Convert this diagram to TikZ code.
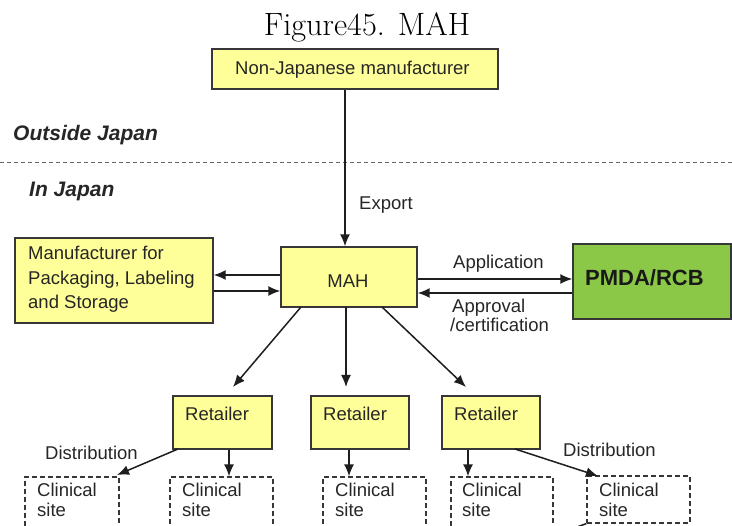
\documentclass[tikz,border=0pt]{standalone}
\usepackage{fontspec}
\newfontfamily\arial{Liberation Sans}
\usetikzlibrary{arrows.meta,calc}
\definecolor{yel}{RGB}{255,255,153}
\definecolor{grn}{RGB}{140,200,72}
\definecolor{bordc}{RGB}{55,55,55}
\definecolor{arrc}{RGB}{30,30,30}
\begin{document}
\begin{tikzpicture}[x=1pt,y=-1pt,
  ybox/.style={draw=bordc, line width=1.4pt, fill=yel, inner sep=0pt},
  gbox/.style={draw=bordc, line width=1.4pt, fill=grn, inner sep=0pt},
  cbox/.style={draw=bordc, line width=1.2pt, dash pattern=on 5pt off 3pt, inner sep=0pt},
  txt/.style={font=\arial\fontsize{18.5}{22}\selectfont, inner sep=0pt, text=black!85},
  region/.style={font=\arial\bfseries\itshape\fontsize{21}{25}\selectfont, inner sep=0pt, text=black!85},
  arr/.style={-{Latex[length=12pt,width=10pt]}, line width=1.5pt, draw=arrc},
  plain/.style={line width=1.5pt, draw=arrc}]
\useasboundingbox (0,0) rectangle (732,526);
\clip (0,0) rectangle (732,526);
\fill[white] (0,0) rectangle (732,526);

% title
\node[inner sep=0pt, anchor=base, font=\fontsize{32.3}{38}\selectfont] (title) at (367,36) {Figure45. MAH};

% boxes
\node[ybox, minimum width=286pt, minimum height=40pt] (nj) at (355,69) {};
\node[ybox, minimum width=136pt, minimum height=60pt] (mah) at (349,277) {};
\node[ybox, minimum width=198pt, minimum height=85pt] (man) at (114,280.5) {};
\node[gbox, minimum width=158pt, minimum height=75pt] (pmda) at (652,281.5) {};
\node[ybox, minimum width=99pt, minimum height=53pt] (r1) at (222.5,422.5) {};
\node[ybox, minimum width=98pt, minimum height=53pt] (r2) at (360,422.5) {};
\node[ybox, minimum width=98pt, minimum height=53pt] (r3) at (491,422.5) {};
\node[cbox, minimum width=94pt, minimum height=80pt] (c1) at (72,517) {};
\node[cbox, minimum width=103pt, minimum height=80pt] (c2) at (221.5,517) {};
\node[cbox, minimum width=103pt, minimum height=80pt] (c3) at (374.5,517) {};
\node[cbox, minimum width=102pt, minimum height=80pt] (c4) at (502,517) {};
\node[cbox, minimum width=103pt, minimum height=47pt] (c5) at (638.5,499.5) {};

% texts
\node[txt, anchor=base west] (njt) at (235,75) {Non-Japanese manufacturer};
\node[region, anchor=base west] (outj) at (13,141) {Outside Japan};
\node[region, anchor=base west] (inj) at (29,197) {In Japan};
\node[txt, anchor=base west] (expt) at (359,210) {Export};
\node[txt, anchor=base] (maht) at (348,288) {MAH};
\node[txt, anchor=base west] (mant1) at (28,260) {Manufacturer for};
\node[txt, anchor=base west] (mant2) at (28,285) {Packaging, Labeling};
\node[txt, anchor=base west] (mant3) at (28,309) {and Storage};
\node[txt, anchor=base west] (appt) at (453,269) {Application};
\node[txt, anchor=base west] (aprt1) at (452,313) {Approval};
\node[txt, anchor=base west] (aprt2) at (450,332) {/certification};
\node[inner sep=0pt, anchor=base west, text=black!90, font=\arial\bfseries\fontsize{22}{26}\selectfont] (pmdat) at (585,286) {PMDA/RCB};
\node[txt, anchor=base west] (r1t) at (185,421) {Retailer};
\node[txt, anchor=base west] (r2t) at (323,421) {Retailer};
\node[txt, anchor=base west] (r3t) at (454,421) {Retailer};
\node[txt, anchor=base west] (d1t) at (45,460) {Distribution};
\node[txt, anchor=base west] (d2t) at (563,457) {Distribution};
\foreach \c/\x in {c1/37, c2/182, c3/335, c4/462, c5/599}{
  \node[txt, anchor=base west] (\c t1) at (\x,497) {Clinical};
  \node[txt, anchor=base west] (\c t2) at (\x,517) {site};
}

% divider
\coordinate (dl) at (0,163);
\coordinate (dr) at (732,163);
\draw[draw=black!60, line width=1pt, dash pattern=on 4pt off 3pt] (dl) -- (dr);

% connectors
\coordinate (ex) at (345,0);
\draw[arr] (nj.south -| ex) -- (mah.north -| ex);
\coordinate (yu) at (0,275);
\coordinate (yl) at (0,291);
\draw[arr] (mah.west |- yu) -- (man.east |- yu);
\draw[arr] (man.east |- yl) -- (mah.west |- yl);
\coordinate (ya) at (0,279);
\coordinate (yb) at (0,293);
\draw[arr] (mah.east |- ya) -- (pmda.west |- ya);
\draw[arr] (pmda.west |- yb) -- (mah.east |- yb);

\coordinate (m1) at (301,307);
\coordinate (m2) at (346,307);
\coordinate (m3) at (382,307);
\coordinate (t1) at (233,387);
\coordinate (t2) at (346,387);
\coordinate (t3) at (466,387);
\draw[arr] (m1) -- (t1);
\draw[arr] (m2) -- (t2);
\draw[arr] (m3) -- (t3);

\coordinate (x1) at (229,0);
\coordinate (x2) at (349,0);
\coordinate (x3) at (468,0);
\draw[arr] (r1.south -| x1) -- (c2.north -| x1);
\draw[arr] (r2.south -| x2) -- (c3.north -| x2);
\draw[arr] (r3.south -| x3) -- (c4.north -| x3);
\coordinate (s1) at (178,449);
\coordinate (e1) at (117,475);
\draw[arr] (s1) -- (e1);
\coordinate (s3) at (515,449);
\coordinate (e3) at (598,476);
\draw[arr] (s3) -- (e3);

\coordinate (b1) at (577,527);
\draw[plain] (b1) -- (c5.south west);
\end{tikzpicture}
\end{document}
